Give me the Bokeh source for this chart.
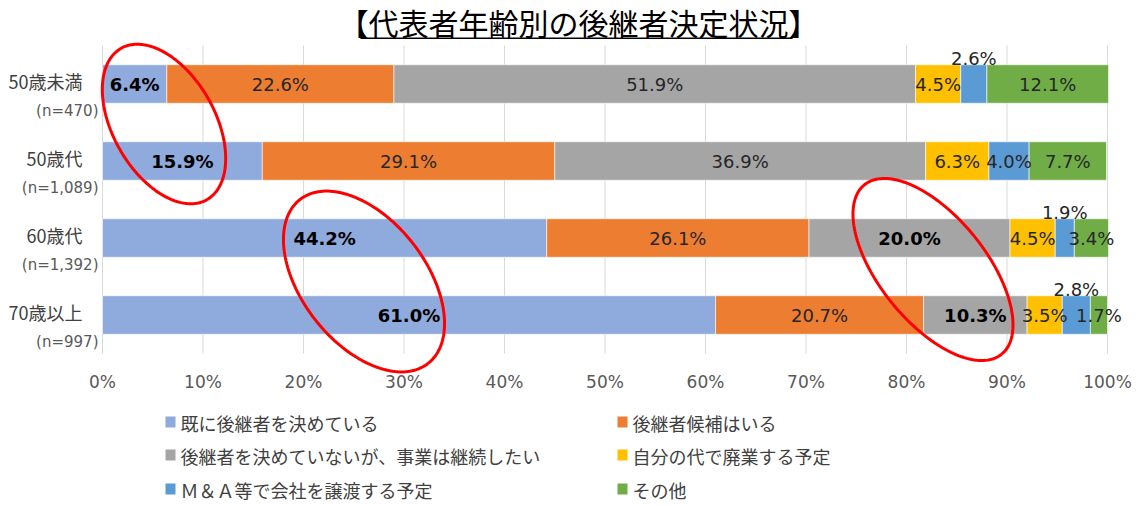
import numpy as np
from bokeh.plotting import figure
from bokeh.models import ColumnDataSource, Label, BoxAnnotation
from bokeh.core.properties import value
from bokeh.embed import file_html
from bokeh.resources import INLINE

# ---------------- data ----------------
title_text = "【代表者年齢別の後継者決定状況】"
groups = ["50歳未満", "50歳代", "60歳代", "70歳以上"]
group_n = ["(n=470)", "(n=1,089)", "(n=1,392)", "(n=997)"]
series = ["既に後継者を決めている", "後継者候補はいる",
          "後継者を決めていないが、事業は継続したい", "自分の代で廃業する予定",
          "Ｍ＆Ａ等で会社を譲渡する予定", "その他"]
decided = [6.4, 15.9, 44.2, 61.0]
candidate = [22.6, 29.1, 26.1, 20.7]
undecided = [51.9, 36.9, 20.0, 10.3]
closing = [4.5, 6.3, 4.5, 3.5]
ma_sale = [2.6, 4.0, 1.9, 2.8]
other = [12.1, 7.7, 3.4, 1.7]
tick_values = [0, 10, 20, 30, 40, 50, 60, 70, 80, 90, 100]
tick_labels = ["0%", "10%", "20%", "30%", "40%", "50%", "60%", "70%", "80%", "90%", "100%"]

# ---------------- style ----------------
colors = ["#8FAADC", "#ED7D31", "#A5A5A5", "#FFC000", "#5B9BD5", "#70AD47"]
bold_labels = {(0, 0), (1, 0), (2, 0), (3, 0), (2, 2), (3, 2)}   # (group, series)
above_labels = {(0, 4), (2, 4), (3, 4)}
JP = "Noto Sans CJK JP"
LAT = "DejaVu Sans"

W, H = 1146, 504
X0_PX, X100_PX = 102, 1107         # canvas px of 0% and 100%
YT_PX, YB_PX = 45, 353             # canvas px of the top / bottom of the bar area
PX_X = (X100_PX - X0_PX) / 100.0
PX_Y = (YB_PX - YT_PX) / 4.0

def dx(px):      # canvas px -> data x
    return (px - X0_PX) / PX_X

def dy(py):      # canvas px -> data y
    return 3.5 - (py - YT_PX) / PX_Y

all_series = [decided, candidate, undecided, closing, ma_sale, other]
ypos = [3 - i for i in range(len(groups))]

p = figure(width=W, height=H,
           x_range=(-X0_PX / PX_X, (W - X0_PX) / PX_X),
           y_range=(3.5 - (H - YT_PX) / PX_Y, 3.5 + YT_PX / PX_Y),
           output_backend="svg", toolbar_location=None,
           x_axis_location=None, y_axis_location=None,
           min_border=0, min_border_left=0, min_border_right=0,
           min_border_top=0, min_border_bottom=0)
p.outline_line_color = None
p.background_fill_color = "white"
p.xgrid.grid_line_color = None
p.ygrid.grid_line_color = None

# grid lines and tick labels (percent scale)
p.segment(x0=tick_values, x1=tick_values, y0=[-0.5] * len(tick_values),
          y1=[3.5] * len(tick_values), line_color="#D9D9D9", line_width=1)
p.text(x=tick_values, y=[dy(381)] * len(tick_values), text=tick_labels,
       text_align="center", text_baseline="middle", text_font=value(LAT),
       text_font_size="17px", text_color="#595959")

# bars + value labels
left = np.zeros(len(groups))
lx, ly, lt, lstyle, lcol = [], [], [], [], []
for j, vals in enumerate(all_series):
    vals = np.array(vals)
    src = ColumnDataSource(dict(y=ypos, left=left, right=left + vals))
    p.hbar(y="y", left="left", right="right", height=0.5, source=src,
           fill_color=colors[j], line_color="white", line_width=0.6)
    for i, v in enumerate(vals):
        bold = (i, j) in bold_labels
        lx.append(left[i] + v / 2)
        ly.append(ypos[i] + 0.25 + 6 / PX_Y if (i, j) in above_labels else ypos[i])
        lt.append(f"{v:.1f}%")
        lstyle.append("bold" if bold else "normal")
        lcol.append("#000000" if bold else "#262626")
    left = left + vals
lsrc = ColumnDataSource(dict(x=lx, y=ly, text=lt, style=lstyle, color=lcol))
p.text(x="x", y="y", text="text", source=lsrc, text_align="center",
       text_baseline="middle", text_font=value(LAT), text_font_size="18px",
       text_font_style="style", text_color="color")

# category labels
p.text(x=[dx(82)] * len(groups), y=[y + 3 / PX_Y for y in ypos], text=groups,
       text_align="right", text_baseline="middle", text_font=value(JP),
       text_font_size="18px", text_color="#404040")
p.text(x=[dx(98)] * len(groups), y=[y - 27 / PX_Y for y in ypos], text=group_n,
       text_align="right", text_baseline="middle", text_font=value(LAT),
       text_font_size="15px", text_color="#595959")

# title
p.add_layout(Label(x=dx(578), y=dy(21), text=title_text, text_align="center",
                   text_baseline="middle", text_font=JP, text_font_size="30px",
                   text_color="#000000"))
p.add_layout(BoxAnnotation(left=dx(360), right=dx(792), top=dy(37), bottom=dy(38.5),
                           fill_color="#000000", fill_alpha=1, line_color=None))

# legend (2 columns, 3 rows)
leg_cols_px = [165, 617]
leg_rows_px = [422, 455, 489]
for k, name in enumerate(series):
    r, c = divmod(k, 2)
    sx, sy = leg_cols_px[c], leg_rows_px[r]
    p.add_layout(BoxAnnotation(left=dx(sx), right=dx(sx + 10), top=dy(sy - 6), bottom=dy(sy + 5),
                               fill_color=colors[k], fill_alpha=1, line_color=None))
    p.add_layout(Label(x=dx(sx + 15), y=dy(sy), text=name, text_align="left",
                       text_baseline="middle", text_font=JP, text_font_size="18px",
                       text_color="#404040"))

# red highlight ellipses: (center px x, y, semi-major px, semi-minor px, angle deg)
ellipses = [(163.5, 123.5, 87, 51, -60.5),
            (363.5, 281, 104, 62, -52),
            (932.5, 269, 109, 53, -51)]
t = np.linspace(0, 2 * np.pi, 181)
for (cxp, cyp, a, b, ang) in ellipses:
    th = np.deg2rad(ang)
    ex = a * np.cos(t) * np.cos(th) - b * np.sin(t) * np.sin(th)
    ey = a * np.cos(t) * np.sin(th) + b * np.sin(t) * np.cos(th)
    p.line(x=dx(cxp) + ex / PX_X, y=dy(cyp) + ey / PX_Y,
           line_color="#FF0000", line_width=3)

open("out.html", "w").write(file_html(p, INLINE))
